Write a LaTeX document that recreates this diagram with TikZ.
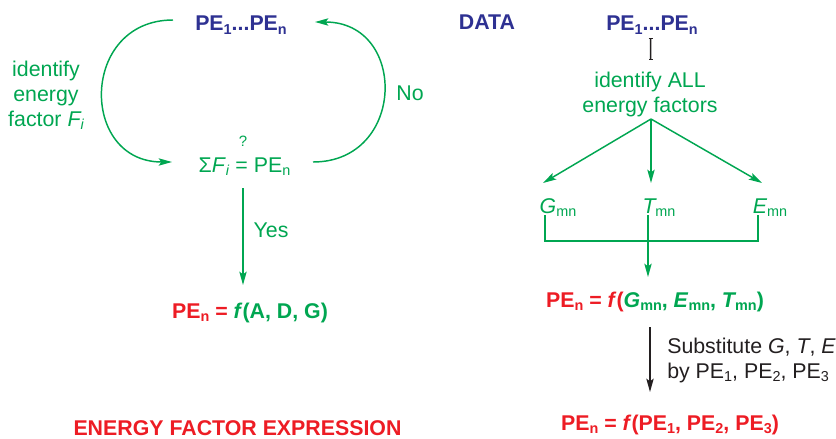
\documentclass[tikz,border=0pt]{standalone}
\usepackage{fontspec}
\setmainfont{Liberation Sans}
\usetikzlibrary{arrows.meta,calc}
\definecolor{cgreen}{HTML}{00A651}
\definecolor{cblue}{HTML}{2E3192}
\definecolor{cred}{HTML}{ED1C24}
\definecolor{cblack}{HTML}{231F20}
\newcommand{\dn}[1]{\raisebox{-2.5pt}{\fontsize{10.8pt}{12pt}\selectfont #1}}
\begin{document}
\begin{tikzpicture}[x=0.75pt,y=-0.75pt,
  every node/.style={inner sep=0pt, anchor=base, font=\fontsize{16pt}{18.75pt}\selectfont},
  glbl/.style={text=cgreen},
  blbl/.style={text=cblue, font=\fontsize{16pt}{18.75pt}\selectfont\bfseries},
  rlbl/.style={text=cred, font=\fontsize{16pt}{18.75pt}\selectfont\bfseries},
  klbl/.style={text=cblack},
  garrow/.style={draw=cgreen, line width=1.1pt, -{Stealth[length=10pt,width=5.5pt,inset=2pt]}},
  gline/.style={draw=cgreen, line width=1.1pt},
  karrow/.style={draw=cblack, line width=1.1pt, -{Stealth[length=10pt,width=5.5pt,inset=2pt]}},
]
\useasboundingbox (0,0) rectangle (836,439);

% left side
\node[blbl] (peL) at (241,31) {PE\dn{1}...PE\dn{n}};
\node[glbl, align=center] (idF) at (46,126) {identify\\energy\\factor \textit{F\dn{i}}};
\node[glbl] (no) at (410,100) {No};
\node[glbl, font=\fontsize{11.25pt}{12pt}\selectfont] (q) at (243,146) {?};
\node[glbl] (sig) at (244.5,172) {Σ\textit{F}\dn{\textit{i}} = PE\dn{n}};
\node[glbl] (yes) at (271,237) {Yes};
\node[rlbl] (resL) at (250,318) {PE\dn{n} = \textcolor{cgreen}{\textit{f}(A, D, G)}};
\node[rlbl] (efe) at (237.5,435) {ENERGY FACTOR EXPRESSION};

\draw[garrow] ($(peL.base)+(-68,-11)$) .. controls +(-93,0) and +(-93,0) .. ($(sig.base)+(-72.5,-10)$);
\draw[garrow] ($(sig.base)+(68.5,-10)$) .. controls +(93,0) and +(93,0) .. ($(peL.base)+(74,-9)$);
\draw[garrow] ($(sig.base)+(-1.5,16)$) -- ($(resL.base)+(-7,-33)$);

% right side
\node[blbl] (data) at (487,30) {DATA};
\node[blbl] (peR) at (652,31) {PE\dn{1}...PE\dn{n}};
\node[glbl, align=center] (idA) at (650,112) {identify ALL\\energy factors};
\node[glbl] (g) at (558,213) {\textit{G}\dn{mn}};
\node[glbl] (t) at (659,213) {\textit{T}\kern-1pt\dn{mn}};
\node[glbl] (e) at (770,213) {\textit{E}\dn{mn}};
\node[rlbl] (resM) at (655,307) {PE\dn{n} = \textit{f}(\textcolor{cgreen}{\textit{G}\dn{mn}, \textit{E}\dn{mn}, \textit{T}\kern-1pt\dn{mn})}};
\node[klbl, align=left, anchor=base west] (sub) at (667,378) {Substitute \textit{G}, \textit{T}, \textit{E}\\by PE\dn{1}, PE\dn{2}, PE\dn{3}};
\node[rlbl] (resB) at (670,430) {PE\dn{n} = \textit{f}(PE\dn{1}, PE\dn{2}, PE\dn{3})};

\draw[draw=cblack, line width=1.1pt, {Bar[width=3pt]}-{Bar[width=3pt]}] ($(peR.base)+(-1.3,7)$) -- ($(idA.base)+(0.7,-52)$);
\coordinate (br) at ($(idA.base)+(1,7)$);
\draw[garrow] (br) -- ($(g.base)+(-15,-30)$);
\draw[garrow] (br) -- ($(t.base)+(-8,-30)$);
\draw[garrow] (br) -- ($(e.base)+(-8,-30)$);
\draw[gline] ($(g.base)+(-13,2)$) |- ($(e.base)+(-12,28)$) -- ($(e.base)+(-12,2)$);
\draw[garrow] ($(t.base)+(-11,2)$) -- ($(resM.base)+(-7,-30)$);
\draw[karrow] ($(resM.base)+(-5,20)$) -- ($(resB.base)+(-20,-38)$);
\end{tikzpicture}
\end{document}
